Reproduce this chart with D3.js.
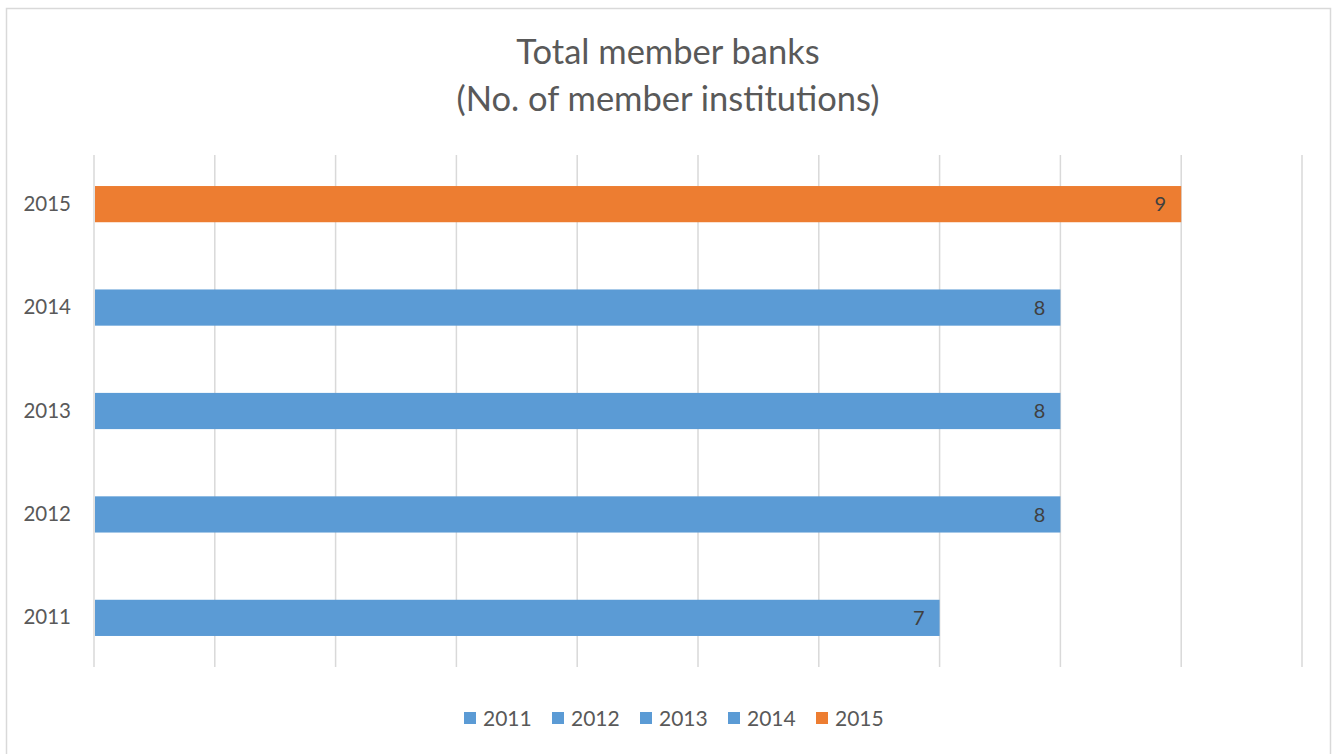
<!DOCTYPE html>
<html>
<head>
<meta charset="utf-8">
<script src="https://cdn.jsdelivr.net/npm/d3@7"></script>
<style>
  html, body { margin: 0; padding: 0; background: #fff; }
  svg { display: block; }
  text { font-family: Lato, "Open Sans", sans-serif; }
</style>
</head>
<body>
<svg id="chart" width="1332" height="754"></svg>
<script>
// Member bank counts by year
const years = ["2011", "2012", "2013", "2014", "2015"];
const members = [7, 8, 8, 8, 9];
const barColors = ["#5b9bd5", "#5b9bd5", "#5b9bd5", "#5b9bd5", "#ed7d31"];
const xTicks = [0, 1, 2, 3, 4, 5, 6, 7, 8, 9, 10];
const titleLines = ["Total member banks", "(No. of member institutions)"];

const svg = d3.select("#chart");

// chart frame
svg.append("rect")
  .attr("x", 6.5).attr("y", 8.5)
  .attr("width", 1324).attr("height", 760)
  .attr("fill", "#fff").attr("stroke", "#d9d9d9").attr("stroke-width", 1.5);

const plot = { left: 94, right: 1302, top: 155, bottom: 667 };

const x = d3.scaleLinear().domain([0, 10]).range([plot.left, plot.right]);
const y = d3.scaleBand().domain(years.slice().reverse())
  .range([plot.top, plot.bottom]).paddingInner(0.65).paddingOuter(0.30);

// vertical gridlines
svg.append("g")
  .selectAll("line").data(xTicks).join("line")
  .attr("x1", d => x(d)).attr("x2", d => x(d))
  .attr("y1", plot.top).attr("y2", plot.bottom)
  .attr("stroke", "#d9d9d9").attr("stroke-width", 1.5);

// bars
const rows = years.map((yr, i) => ({ yr, v: members[i], c: barColors[i] }));
svg.append("g")
  .selectAll("rect").data(rows).join("rect")
  .attr("x", x(0) + 1)
  .attr("y", d => y(d.yr))
  .attr("width", d => x(d.v) - x(0) - 1)
  .attr("height", y.bandwidth())
  .attr("fill", d => d.c);

// value labels inside bar ends
svg.append("g")
  .selectAll("text").data(rows).join("text")
  .attr("x", d => x(d.v) - 15)
  .attr("y", d => y(d.yr) + y.bandwidth() / 2)
  .attr("dy", "0.36em")
  .attr("text-anchor", "end")
  .attr("font-size", 20)
  .attr("fill", "#404040")
  .text(d => d.v);

// category axis labels
const yAxis = d3.axisLeft(y).tickSize(0).tickPadding(23);
const gy = svg.append("g").attr("transform", `translate(${plot.left},0)`).call(yAxis);
gy.select(".domain").remove();
gy.selectAll("text")
  .attr("font-size", 20.5).attr("fill", "#595959")
  .style("font-family", "Lato, 'Open Sans', sans-serif");

// title
svg.append("g")
  .selectAll("text").data(titleLines).join("text")
  .attr("x", 668)
  .attr("y", (d, i) => 64 + i * 47)
  .attr("text-anchor", "middle")
  .attr("font-size", 34.5)
  .attr("fill", "#595959")
  .text(d => d);

// legend
const legend = svg.append("g");
const lx0 = 464, lstep = 88, ly = 718;
const items = legend.selectAll("g").data(rows).join("g")
  .attr("transform", (d, i) => `translate(${lx0 + i * lstep},${ly})`);
items.append("rect")
  .attr("x", 0).attr("y", -6).attr("width", 12).attr("height", 12)
  .attr("fill", d => d.c);
items.append("text")
  .attr("x", 19).attr("y", 0).attr("dy", "0.36em")
  .attr("font-size", 21).attr("fill", "#595959")
  .text(d => d.yr);
</script>
</body>
</html>
